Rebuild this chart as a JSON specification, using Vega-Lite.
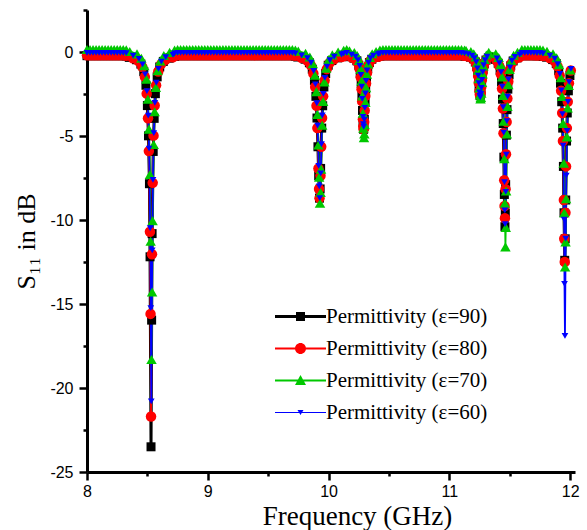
{
"$schema":"https://vega.github.io/schema/vega-lite/v6.json",
"width":488,"height":462,
"autosize":{"type":"none"},
"padding":{"left":87,"top":10,"right":12,"bottom":58},
"background":"white",
"config":{"view":{"stroke":null},
"axis":{"domainWidth":3,"domainColor":"#000","tickWidth":2.5,"tickColor":"#000","labelFont":"Liberation Sans","labelFontSize":16,"labelColor":"#000","titleFont":"Liberation Serif","titleFontSize":26,"titleFontWeight":"normal","titleColor":"#000","grid":false,"labelFlush":false,"labelOverlap":false}},
"data":{"values":[
{"f":8,"s":-0.22,"p":"90"},{"f":8.05,"s":-0.22,"p":"90"},{"f":8.1,"s":-0.22,"p":"90"},{"f":8.15,"s":-0.22,"p":"90"},{"f":8.2,"s":-0.22,"p":"90"},{"f":8.25,"s":-0.22,"p":"90"},{"f":8.3,"s":-0.22,"p":"90"},{"f":8.75,"s":-0.22,"p":"90"},{"f":8.8,"s":-0.22,"p":"90"},{"f":8.85,"s":-0.22,"p":"90"},{"f":8.9,"s":-0.22,"p":"90"},{"f":8.95,"s":-0.22,"p":"90"},{"f":9,"s":-0.22,"p":"90"},{"f":9.05,"s":-0.22,"p":"90"},{"f":9.1,"s":-0.22,"p":"90"},{"f":9.15,"s":-0.22,"p":"90"},{"f":9.2,"s":-0.22,"p":"90"},{"f":9.25,"s":-0.22,"p":"90"},{"f":9.3,"s":-0.22,"p":"90"},{"f":9.35,"s":-0.22,"p":"90"},{"f":9.4,"s":-0.22,"p":"90"},{"f":9.45,"s":-0.22,"p":"90"},{"f":9.5,"s":-0.22,"p":"90"},{"f":9.55,"s":-0.22,"p":"90"},{"f":9.6,"s":-0.22,"p":"90"},{"f":9.65,"s":-0.22,"p":"90"},{"f":9.7,"s":-0.22,"p":"90"},{"f":10.15,"s":-0.22,"p":"90"},{"f":10.45,"s":-0.22,"p":"90"},{"f":10.5,"s":-0.22,"p":"90"},{"f":10.55,"s":-0.22,"p":"90"},{"f":10.6,"s":-0.22,"p":"90"},{"f":10.65,"s":-0.22,"p":"90"},{"f":10.7,"s":-0.22,"p":"90"},{"f":10.75,"s":-0.22,"p":"90"},{"f":10.8,"s":-0.22,"p":"90"},{"f":10.85,"s":-0.22,"p":"90"},{"f":10.9,"s":-0.22,"p":"90"},{"f":10.95,"s":-0.22,"p":"90"},{"f":11,"s":-0.22,"p":"90"},{"f":11.05,"s":-0.22,"p":"90"},{"f":11.1,"s":-0.22,"p":"90"},{"f":11.6,"s":-0.22,"p":"90"},{"f":11.65,"s":-0.22,"p":"90"},{"f":11.7,"s":-0.22,"p":"90"},{"f":11.75,"s":-0.22,"p":"90"},
{"f":8.025,"s":-0.22,"p":"90"},{"f":8.075,"s":-0.22,"p":"90"},{"f":8.125,"s":-0.22,"p":"90"},{"f":8.175,"s":-0.22,"p":"90"},{"f":8.225,"s":-0.22,"p":"90"},{"f":8.275,"s":-0.22,"p":"90"},{"f":8.325,"s":-0.24,"p":"90"},{"f":8.725,"s":-0.26,"p":"90"},{"f":8.775,"s":-0.22,"p":"90"},{"f":8.825,"s":-0.22,"p":"90"},{"f":8.875,"s":-0.22,"p":"90"},{"f":8.925,"s":-0.22,"p":"90"},{"f":8.975,"s":-0.22,"p":"90"},{"f":9.025,"s":-0.22,"p":"90"},{"f":9.075,"s":-0.22,"p":"90"},{"f":9.125,"s":-0.22,"p":"90"},{"f":9.175,"s":-0.22,"p":"90"},{"f":9.225,"s":-0.22,"p":"90"},{"f":9.275,"s":-0.22,"p":"90"},{"f":9.325,"s":-0.22,"p":"90"},{"f":9.375,"s":-0.22,"p":"90"},{"f":9.425,"s":-0.22,"p":"90"},{"f":9.475,"s":-0.22,"p":"90"},{"f":9.525,"s":-0.22,"p":"90"},{"f":9.575,"s":-0.22,"p":"90"},{"f":9.625,"s":-0.22,"p":"90"},{"f":9.675,"s":-0.22,"p":"90"},{"f":9.725,"s":-0.25,"p":"90"},{"f":10.125,"s":-0.25,"p":"90"},{"f":10.425,"s":-0.24,"p":"90"},{"f":10.475,"s":-0.22,"p":"90"},{"f":10.525,"s":-0.22,"p":"90"},{"f":10.575,"s":-0.22,"p":"90"},{"f":10.625,"s":-0.22,"p":"90"},{"f":10.675,"s":-0.22,"p":"90"},{"f":10.725,"s":-0.22,"p":"90"},{"f":10.775,"s":-0.22,"p":"90"},{"f":10.825,"s":-0.22,"p":"90"},{"f":10.875,"s":-0.22,"p":"90"},{"f":10.925,"s":-0.22,"p":"90"},{"f":10.975,"s":-0.22,"p":"90"},{"f":11.025,"s":-0.22,"p":"90"},{"f":11.075,"s":-0.22,"p":"90"},{"f":11.125,"s":-0.24,"p":"90"},{"f":11.625,"s":-0.22,"p":"90"},{"f":11.675,"s":-0.22,"p":"90"},{"f":11.725,"s":-0.23,"p":"90"},{"f":11.775,"s":-0.26,"p":"90"},
{"f":8.35,"s":-0.32,"p":"90"},{"f":8.41,"s":-0.46,"p":"90"},{"f":8.446,"s":-0.72,"p":"90"},{"f":8.47,"s":-1.16,"p":"90"},{"f":8.488,"s":-1.98,"p":"90"},{"f":8.5,"s":-3.19,"p":"90"},{"f":8.509,"s":-4.99,"p":"90"},{"f":8.517,"s":-7.84,"p":"90"},{"f":8.522,"s":-12.19,"p":"90"},{"f":8.53,"s":-23.5,"p":"90"},{"f":8.535,"s":-15.96,"p":"90"},{"f":8.539,"s":-10.81,"p":"90"},{"f":8.548,"s":-5.92,"p":"90"},{"f":8.556,"s":-3.95,"p":"90"},{"f":8.566,"s":-2.48,"p":"90"},{"f":8.581,"s":-1.48,"p":"90"},{"f":8.602,"s":-0.89,"p":"90"},{"f":8.632,"s":-0.56,"p":"90"},{"f":8.68,"s":-0.37,"p":"90"},
{"f":9.745,"s":-0.3,"p":"90"},{"f":9.805,"s":-0.43,"p":"90"},{"f":9.841,"s":-0.64,"p":"90"},{"f":9.865,"s":-1.02,"p":"90"},{"f":9.883,"s":-1.69,"p":"90"},{"f":9.895,"s":-2.64,"p":"90"},{"f":9.904,"s":-3.93,"p":"90"},{"f":9.912,"s":-5.64,"p":"90"},{"f":9.918,"s":-7.37,"p":"90"},{"f":9.925,"s":-8.7,"p":"90"},{"f":9.93,"s":-8.15,"p":"90"},{"f":9.934,"s":-6.93,"p":"90"},{"f":9.943,"s":-4.53,"p":"90"},{"f":9.951,"s":-3.2,"p":"90"},{"f":9.961,"s":-2.08,"p":"90"},{"f":9.976,"s":-1.28,"p":"90"},{"f":9.997,"s":-0.79,"p":"90"},{"f":10.027,"s":-0.51,"p":"90"},{"f":10.075,"s":-0.35,"p":"90"},
{"f":10.17,"s":-0.28,"p":"90"},{"f":10.21,"s":-0.37,"p":"90"},{"f":10.234,"s":-0.52,"p":"90"},{"f":10.25,"s":-0.79,"p":"90"},{"f":10.262,"s":-1.25,"p":"90"},{"f":10.27,"s":-1.87,"p":"90"},{"f":10.276,"s":-2.62,"p":"90"},{"f":10.281,"s":-3.48,"p":"90"},{"f":10.285,"s":-4.17,"p":"90"},{"f":10.29,"s":-4.6,"p":"90"},{"f":10.293,"s":-4.44,"p":"90"},{"f":10.296,"s":-4.01,"p":"90"},{"f":10.302,"s":-2.94,"p":"90"},{"f":10.307,"s":-2.21,"p":"90"},{"f":10.314,"s":-1.51,"p":"90"},{"f":10.324,"s":-0.98,"p":"90"},{"f":10.338,"s":-0.63,"p":"90"},{"f":10.358,"s":-0.43,"p":"90"},{"f":10.39,"s":-0.31,"p":"90"},
{"f":11.135,"s":-0.25,"p":"90"},{"f":11.175,"s":-0.31,"p":"90"},{"f":11.199,"s":-0.41,"p":"90"},{"f":11.215,"s":-0.59,"p":"90"},{"f":11.227,"s":-0.87,"p":"90"},{"f":11.235,"s":-1.24,"p":"90"},{"f":11.241,"s":-1.66,"p":"90"},{"f":11.246,"s":-2.09,"p":"90"},{"f":11.25,"s":-2.42,"p":"90"},{"f":11.255,"s":-2.6,"p":"90"},{"f":11.258,"s":-2.53,"p":"90"},{"f":11.261,"s":-2.34,"p":"90"},{"f":11.267,"s":-1.83,"p":"90"},{"f":11.272,"s":-1.43,"p":"90"},{"f":11.279,"s":-1.03,"p":"90"},{"f":11.289,"s":-0.7,"p":"90"},{"f":11.303,"s":-0.48,"p":"90"},{"f":11.323,"s":-0.35,"p":"90"},
{"f":11.38,"s":-0.44,"p":"90"},{"f":11.404,"s":-0.67,"p":"90"},{"f":11.42,"s":-1.07,"p":"90"},{"f":11.432,"s":-1.78,"p":"90"},{"f":11.44,"s":-2.81,"p":"90"},{"f":11.446,"s":-4.26,"p":"90"},{"f":11.451,"s":-6.26,"p":"90"},{"f":11.455,"s":-8.48,"p":"90"},{"f":11.46,"s":-10.4,"p":"90"},{"f":11.463,"s":-9.58,"p":"90"},{"f":11.466,"s":-7.89,"p":"90"},{"f":11.472,"s":-4.95,"p":"90"},{"f":11.477,"s":-3.43,"p":"90"},{"f":11.484,"s":-2.21,"p":"90"},{"f":11.494,"s":-1.35,"p":"90"},{"f":11.508,"s":-0.82,"p":"90"},{"f":11.528,"s":-0.53,"p":"90"},{"f":11.56,"s":-0.35,"p":"90"},
{"f":11.805,"s":-0.31,"p":"90"},{"f":11.855,"s":-0.45,"p":"90"},{"f":11.885,"s":-0.69,"p":"90"},{"f":11.905,"s":-1.1,"p":"90"},{"f":11.92,"s":-1.86,"p":"90"},{"f":11.93,"s":-2.96,"p":"90"},{"f":11.938,"s":-4.53,"p":"90"},{"f":11.944,"s":-6.81,"p":"90"},{"f":11.949,"s":-9.57,"p":"90"},{"f":11.955,"s":-12.4,"p":"90"},{"f":11.959,"s":-11.12,"p":"90"},{"f":11.963,"s":-8.81,"p":"90"},{"f":11.97,"s":-5.3,"p":"90"},{"f":11.976,"s":-3.63,"p":"90"},{"f":11.985,"s":-2.31,"p":"90"},{"f":11.998,"s":-1.4,"p":"90"},

{"f":8,"s":-0.2,"p":"80"},{"f":8.05,"s":-0.2,"p":"80"},{"f":8.1,"s":-0.2,"p":"80"},{"f":8.15,"s":-0.2,"p":"80"},{"f":8.2,"s":-0.2,"p":"80"},{"f":8.25,"s":-0.2,"p":"80"},{"f":8.3,"s":-0.2,"p":"80"},{"f":8.75,"s":-0.2,"p":"80"},{"f":8.8,"s":-0.2,"p":"80"},{"f":8.85,"s":-0.2,"p":"80"},{"f":8.9,"s":-0.2,"p":"80"},{"f":8.95,"s":-0.2,"p":"80"},{"f":9,"s":-0.2,"p":"80"},{"f":9.05,"s":-0.2,"p":"80"},{"f":9.1,"s":-0.2,"p":"80"},{"f":9.15,"s":-0.2,"p":"80"},{"f":9.2,"s":-0.2,"p":"80"},{"f":9.25,"s":-0.2,"p":"80"},{"f":9.3,"s":-0.2,"p":"80"},{"f":9.35,"s":-0.2,"p":"80"},{"f":9.4,"s":-0.2,"p":"80"},{"f":9.45,"s":-0.2,"p":"80"},{"f":9.5,"s":-0.2,"p":"80"},{"f":9.55,"s":-0.2,"p":"80"},{"f":9.6,"s":-0.2,"p":"80"},{"f":9.65,"s":-0.2,"p":"80"},{"f":9.7,"s":-0.2,"p":"80"},{"f":10.15,"s":-0.2,"p":"80"},{"f":10.45,"s":-0.2,"p":"80"},{"f":10.5,"s":-0.2,"p":"80"},{"f":10.55,"s":-0.2,"p":"80"},{"f":10.6,"s":-0.2,"p":"80"},{"f":10.65,"s":-0.2,"p":"80"},{"f":10.7,"s":-0.2,"p":"80"},{"f":10.75,"s":-0.2,"p":"80"},{"f":10.8,"s":-0.2,"p":"80"},{"f":10.85,"s":-0.2,"p":"80"},{"f":10.9,"s":-0.2,"p":"80"},{"f":10.95,"s":-0.2,"p":"80"},{"f":11,"s":-0.2,"p":"80"},{"f":11.05,"s":-0.2,"p":"80"},{"f":11.1,"s":-0.2,"p":"80"},{"f":11.6,"s":-0.2,"p":"80"},{"f":11.65,"s":-0.2,"p":"80"},{"f":11.7,"s":-0.2,"p":"80"},{"f":11.75,"s":-0.2,"p":"80"},
{"f":8.025,"s":-0.2,"p":"80"},{"f":8.075,"s":-0.2,"p":"80"},{"f":8.125,"s":-0.2,"p":"80"},{"f":8.175,"s":-0.2,"p":"80"},{"f":8.225,"s":-0.2,"p":"80"},{"f":8.275,"s":-0.2,"p":"80"},{"f":8.325,"s":-0.22,"p":"80"},{"f":8.725,"s":-0.24,"p":"80"},{"f":8.775,"s":-0.2,"p":"80"},{"f":8.825,"s":-0.2,"p":"80"},{"f":8.875,"s":-0.2,"p":"80"},{"f":8.925,"s":-0.2,"p":"80"},{"f":8.975,"s":-0.2,"p":"80"},{"f":9.025,"s":-0.2,"p":"80"},{"f":9.075,"s":-0.2,"p":"80"},{"f":9.125,"s":-0.2,"p":"80"},{"f":9.175,"s":-0.2,"p":"80"},{"f":9.225,"s":-0.2,"p":"80"},{"f":9.275,"s":-0.2,"p":"80"},{"f":9.325,"s":-0.2,"p":"80"},{"f":9.375,"s":-0.2,"p":"80"},{"f":9.425,"s":-0.2,"p":"80"},{"f":9.475,"s":-0.2,"p":"80"},{"f":9.525,"s":-0.2,"p":"80"},{"f":9.575,"s":-0.2,"p":"80"},{"f":9.625,"s":-0.2,"p":"80"},{"f":9.675,"s":-0.2,"p":"80"},{"f":9.725,"s":-0.23,"p":"80"},{"f":10.125,"s":-0.25,"p":"80"},{"f":10.425,"s":-0.24,"p":"80"},{"f":10.475,"s":-0.2,"p":"80"},{"f":10.525,"s":-0.2,"p":"80"},{"f":10.575,"s":-0.2,"p":"80"},{"f":10.625,"s":-0.2,"p":"80"},{"f":10.675,"s":-0.2,"p":"80"},{"f":10.725,"s":-0.2,"p":"80"},{"f":10.775,"s":-0.2,"p":"80"},{"f":10.825,"s":-0.2,"p":"80"},{"f":10.875,"s":-0.2,"p":"80"},{"f":10.925,"s":-0.2,"p":"80"},{"f":10.975,"s":-0.2,"p":"80"},{"f":11.025,"s":-0.2,"p":"80"},{"f":11.075,"s":-0.2,"p":"80"},{"f":11.125,"s":-0.22,"p":"80"},{"f":11.625,"s":-0.2,"p":"80"},{"f":11.675,"s":-0.2,"p":"80"},{"f":11.725,"s":-0.21,"p":"80"},{"f":11.775,"s":-0.24,"p":"80"},
{"f":8.38,"s":-0.37,"p":"80"},{"f":8.428,"s":-0.56,"p":"80"},{"f":8.458,"s":-0.89,"p":"80"},{"f":8.479,"s":-1.48,"p":"80"},{"f":8.494,"s":-2.48,"p":"80"},{"f":8.505,"s":-3.94,"p":"80"},{"f":8.512,"s":-5.9,"p":"80"},{"f":8.521,"s":-10.7,"p":"80"},{"f":8.526,"s":-15.59,"p":"80"},{"f":8.53,"s":-21.7,"p":"80"},{"f":8.538,"s":-12.04,"p":"80"},{"f":8.544,"s":-7.79,"p":"80"},{"f":8.551,"s":-4.98,"p":"80"},{"f":8.56,"s":-3.18,"p":"80"},{"f":8.572,"s":-1.98,"p":"80"},{"f":8.59,"s":-1.16,"p":"80"},{"f":8.614,"s":-0.72,"p":"80"},{"f":8.65,"s":-0.46,"p":"80"},{"f":8.71,"s":-0.32,"p":"80"},
{"f":9.775,"s":-0.35,"p":"80"},{"f":9.823,"s":-0.51,"p":"80"},{"f":9.853,"s":-0.79,"p":"80"},{"f":9.874,"s":-1.28,"p":"80"},{"f":9.889,"s":-2.08,"p":"80"},{"f":9.9,"s":-3.2,"p":"80"},{"f":9.907,"s":-4.53,"p":"80"},{"f":9.916,"s":-6.93,"p":"80"},{"f":9.921,"s":-8.15,"p":"80"},{"f":9.925,"s":-8.7,"p":"80"},{"f":9.933,"s":-7.37,"p":"80"},{"f":9.939,"s":-5.64,"p":"80"},{"f":9.946,"s":-3.93,"p":"80"},{"f":9.955,"s":-2.64,"p":"80"},{"f":9.967,"s":-1.69,"p":"80"},{"f":9.985,"s":-1.02,"p":"80"},{"f":10.009,"s":-0.64,"p":"80"},{"f":10.045,"s":-0.43,"p":"80"},{"f":10.105,"s":-0.3,"p":"80"},
{"f":10.19,"s":-0.31,"p":"80"},{"f":10.222,"s":-0.43,"p":"80"},{"f":10.242,"s":-0.63,"p":"80"},{"f":10.256,"s":-0.98,"p":"80"},{"f":10.266,"s":-1.51,"p":"80"},{"f":10.273,"s":-2.21,"p":"80"},{"f":10.278,"s":-2.94,"p":"80"},{"f":10.284,"s":-4.01,"p":"80"},{"f":10.287,"s":-4.44,"p":"80"},{"f":10.29,"s":-4.6,"p":"80"},{"f":10.295,"s":-4.17,"p":"80"},{"f":10.299,"s":-3.48,"p":"80"},{"f":10.304,"s":-2.62,"p":"80"},{"f":10.31,"s":-1.87,"p":"80"},{"f":10.318,"s":-1.25,"p":"80"},{"f":10.33,"s":-0.79,"p":"80"},{"f":10.346,"s":-0.52,"p":"80"},{"f":10.37,"s":-0.37,"p":"80"},{"f":10.41,"s":-0.28,"p":"80"},
{"f":11.155,"s":-0.27,"p":"80"},{"f":11.187,"s":-0.35,"p":"80"},{"f":11.207,"s":-0.48,"p":"80"},{"f":11.221,"s":-0.7,"p":"80"},{"f":11.231,"s":-1.03,"p":"80"},{"f":11.238,"s":-1.43,"p":"80"},{"f":11.243,"s":-1.83,"p":"80"},{"f":11.249,"s":-2.34,"p":"80"},{"f":11.252,"s":-2.53,"p":"80"},{"f":11.255,"s":-2.6,"p":"80"},{"f":11.26,"s":-2.42,"p":"80"},{"f":11.264,"s":-2.09,"p":"80"},{"f":11.269,"s":-1.66,"p":"80"},{"f":11.275,"s":-1.24,"p":"80"},{"f":11.283,"s":-0.87,"p":"80"},{"f":11.295,"s":-0.59,"p":"80"},{"f":11.311,"s":-0.41,"p":"80"},
{"f":11.392,"s":-0.52,"p":"80"},{"f":11.412,"s":-0.82,"p":"80"},{"f":11.426,"s":-1.33,"p":"80"},{"f":11.436,"s":-2.18,"p":"80"},{"f":11.443,"s":-3.37,"p":"80"},{"f":11.448,"s":-4.84,"p":"80"},{"f":11.454,"s":-7.63,"p":"80"},{"f":11.457,"s":-9.17,"p":"80"},{"f":11.46,"s":-9.9,"p":"80"},{"f":11.465,"s":-8.17,"p":"80"},{"f":11.469,"s":-6.09,"p":"80"},{"f":11.474,"s":-4.17,"p":"80"},{"f":11.48,"s":-2.77,"p":"80"},{"f":11.488,"s":-1.76,"p":"80"},{"f":11.5,"s":-1.05,"p":"80"},{"f":11.516,"s":-0.66,"p":"80"},{"f":11.54,"s":-0.44,"p":"80"},{"f":11.58,"s":-0.31,"p":"80"},
{"f":11.83,"s":-0.36,"p":"80"},{"f":11.87,"s":-0.54,"p":"80"},{"f":11.895,"s":-0.85,"p":"80"},{"f":11.913,"s":-1.4,"p":"80"},{"f":11.925,"s":-2.31,"p":"80"},{"f":11.934,"s":-3.63,"p":"80"},{"f":11.94,"s":-5.3,"p":"80"},{"f":11.948,"s":-8.81,"p":"80"},{"f":11.951,"s":-11.12,"p":"80"},{"f":11.955,"s":-12.5,"p":"80"},{"f":11.961,"s":-9.57,"p":"80"},{"f":11.966,"s":-6.81,"p":"80"},{"f":11.973,"s":-4.53,"p":"80"},{"f":11.98,"s":-2.96,"p":"80"},{"f":11.99,"s":-1.86,"p":"80"},{"f":12.005,"s":-1.1,"p":"80"},

{"f":8,"s":0.15,"p":"70"},{"f":8.05,"s":0.15,"p":"70"},{"f":8.1,"s":0.15,"p":"70"},{"f":8.15,"s":0.15,"p":"70"},{"f":8.2,"s":0.15,"p":"70"},{"f":8.25,"s":0.15,"p":"70"},{"f":8.3,"s":0.15,"p":"70"},{"f":8.75,"s":0.15,"p":"70"},{"f":8.8,"s":0.15,"p":"70"},{"f":8.85,"s":0.15,"p":"70"},{"f":8.9,"s":0.15,"p":"70"},{"f":8.95,"s":0.15,"p":"70"},{"f":9,"s":0.15,"p":"70"},{"f":9.05,"s":0.15,"p":"70"},{"f":9.1,"s":0.15,"p":"70"},{"f":9.15,"s":0.15,"p":"70"},{"f":9.2,"s":0.15,"p":"70"},{"f":9.25,"s":0.15,"p":"70"},{"f":9.3,"s":0.15,"p":"70"},{"f":9.35,"s":0.15,"p":"70"},{"f":9.4,"s":0.15,"p":"70"},{"f":9.45,"s":0.15,"p":"70"},{"f":9.5,"s":0.15,"p":"70"},{"f":9.55,"s":0.15,"p":"70"},{"f":9.6,"s":0.15,"p":"70"},{"f":9.65,"s":0.15,"p":"70"},{"f":9.7,"s":0.15,"p":"70"},{"f":10.15,"s":0.15,"p":"70"},{"f":10.45,"s":0.15,"p":"70"},{"f":10.5,"s":0.15,"p":"70"},{"f":10.55,"s":0.15,"p":"70"},{"f":10.6,"s":0.15,"p":"70"},{"f":10.65,"s":0.15,"p":"70"},{"f":10.7,"s":0.15,"p":"70"},{"f":10.75,"s":0.15,"p":"70"},{"f":10.8,"s":0.15,"p":"70"},{"f":10.85,"s":0.15,"p":"70"},{"f":10.9,"s":0.15,"p":"70"},{"f":10.95,"s":0.15,"p":"70"},{"f":11,"s":0.15,"p":"70"},{"f":11.05,"s":0.15,"p":"70"},{"f":11.1,"s":0.15,"p":"70"},{"f":11.6,"s":0.15,"p":"70"},{"f":11.65,"s":0.15,"p":"70"},{"f":11.7,"s":0.15,"p":"70"},{"f":11.75,"s":0.15,"p":"70"},
{"f":8.025,"s":0.15,"p":"70"},{"f":8.075,"s":0.15,"p":"70"},{"f":8.125,"s":0.15,"p":"70"},{"f":8.175,"s":0.15,"p":"70"},{"f":8.225,"s":0.15,"p":"70"},{"f":8.275,"s":0.15,"p":"70"},{"f":8.325,"s":0.13,"p":"70"},{"f":8.725,"s":0.11,"p":"70"},{"f":8.775,"s":0.15,"p":"70"},{"f":8.825,"s":0.15,"p":"70"},{"f":8.875,"s":0.15,"p":"70"},{"f":8.925,"s":0.15,"p":"70"},{"f":8.975,"s":0.15,"p":"70"},{"f":9.025,"s":0.15,"p":"70"},{"f":9.075,"s":0.15,"p":"70"},{"f":9.125,"s":0.15,"p":"70"},{"f":9.175,"s":0.15,"p":"70"},{"f":9.225,"s":0.15,"p":"70"},{"f":9.275,"s":0.15,"p":"70"},{"f":9.325,"s":0.15,"p":"70"},{"f":9.375,"s":0.15,"p":"70"},{"f":9.425,"s":0.15,"p":"70"},{"f":9.475,"s":0.15,"p":"70"},{"f":9.525,"s":0.15,"p":"70"},{"f":9.575,"s":0.15,"p":"70"},{"f":9.625,"s":0.15,"p":"70"},{"f":9.675,"s":0.15,"p":"70"},{"f":9.725,"s":0.12,"p":"70"},{"f":10.125,"s":0.1,"p":"70"},{"f":10.425,"s":0.12,"p":"70"},{"f":10.475,"s":0.15,"p":"70"},{"f":10.525,"s":0.15,"p":"70"},{"f":10.575,"s":0.15,"p":"70"},{"f":10.625,"s":0.15,"p":"70"},{"f":10.675,"s":0.15,"p":"70"},{"f":10.725,"s":0.15,"p":"70"},{"f":10.775,"s":0.15,"p":"70"},{"f":10.825,"s":0.15,"p":"70"},{"f":10.875,"s":0.15,"p":"70"},{"f":10.925,"s":0.15,"p":"70"},{"f":10.975,"s":0.15,"p":"70"},{"f":11.025,"s":0.15,"p":"70"},{"f":11.075,"s":0.15,"p":"70"},{"f":11.125,"s":0.12,"p":"70"},{"f":11.625,"s":0.15,"p":"70"},{"f":11.675,"s":0.15,"p":"70"},{"f":11.725,"s":0.14,"p":"70"},{"f":11.775,"s":0.11,"p":"70"},
{"f":8.354,"s":0.03,"p":"70"},{"f":8.414,"s":-0.11,"p":"70"},{"f":8.45,"s":-0.37,"p":"70"},{"f":8.474,"s":-0.81,"p":"70"},{"f":8.492,"s":-1.62,"p":"70"},{"f":8.504,"s":-2.81,"p":"70"},{"f":8.513,"s":-4.59,"p":"70"},{"f":8.521,"s":-7.29,"p":"70"},{"f":8.527,"s":-11.26,"p":"70"},{"f":8.534,"s":-18.3,"p":"70"},{"f":8.539,"s":-14.29,"p":"70"},{"f":8.543,"s":-10.04,"p":"70"},{"f":8.552,"s":-5.51,"p":"70"},{"f":8.56,"s":-3.56,"p":"70"},{"f":8.57,"s":-2.11,"p":"70"},{"f":8.585,"s":-1.12,"p":"70"},{"f":8.606,"s":-0.54,"p":"70"},{"f":8.636,"s":-0.21,"p":"70"},{"f":8.684,"s":-0.02,"p":"70"},
{"f":9.749,"s":0.05,"p":"70"},{"f":9.809,"s":-0.08,"p":"70"},{"f":9.845,"s":-0.3,"p":"70"},{"f":9.869,"s":-0.69,"p":"70"},{"f":9.887,"s":-1.38,"p":"70"},{"f":9.899,"s":-2.36,"p":"70"},{"f":9.908,"s":-3.72,"p":"70"},{"f":9.916,"s":-5.54,"p":"70"},{"f":9.922,"s":-7.46,"p":"70"},{"f":9.929,"s":-9.0,"p":"70"},{"f":9.934,"s":-8.36,"p":"70"},{"f":9.938,"s":-6.97,"p":"70"},{"f":9.947,"s":-4.36,"p":"70"},{"f":9.955,"s":-2.95,"p":"70"},{"f":9.965,"s":-1.79,"p":"70"},{"f":9.98,"s":-0.96,"p":"70"},{"f":10.001,"s":-0.45,"p":"70"},{"f":10.031,"s":-0.17,"p":"70"},{"f":10.079,"s":0.0,"p":"70"},
{"f":10.173,"s":0.07,"p":"70"},{"f":10.213,"s":-0.03,"p":"70"},{"f":10.237,"s":-0.21,"p":"70"},{"f":10.253,"s":-0.51,"p":"70"},{"f":10.265,"s":-1.02,"p":"70"},{"f":10.273,"s":-1.73,"p":"70"},{"f":10.279,"s":-2.61,"p":"70"},{"f":10.284,"s":-3.65,"p":"70"},{"f":10.288,"s":-4.54,"p":"70"},{"f":10.293,"s":-5.1,"p":"70"},{"f":10.296,"s":-4.88,"p":"70"},{"f":10.299,"s":-4.33,"p":"70"},{"f":10.305,"s":-3.0,"p":"70"},{"f":10.31,"s":-2.12,"p":"70"},{"f":10.317,"s":-1.32,"p":"70"},{"f":10.327,"s":-0.71,"p":"70"},{"f":10.341,"s":-0.33,"p":"70"},{"f":10.361,"s":-0.1,"p":"70"},{"f":10.393,"s":0.03,"p":"70"},
{"f":11.138,"s":0.09,"p":"70"},{"f":11.178,"s":0.02,"p":"70"},{"f":11.202,"s":-0.1,"p":"70"},{"f":11.218,"s":-0.3,"p":"70"},{"f":11.23,"s":-0.64,"p":"70"},{"f":11.238,"s":-1.08,"p":"70"},{"f":11.244,"s":-1.59,"p":"70"},{"f":11.249,"s":-2.14,"p":"70"},{"f":11.253,"s":-2.56,"p":"70"},{"f":11.258,"s":-2.8,"p":"70"},{"f":11.261,"s":-2.71,"p":"70"},{"f":11.264,"s":-2.46,"p":"70"},{"f":11.27,"s":-1.81,"p":"70"},{"f":11.275,"s":-1.31,"p":"70"},{"f":11.282,"s":-0.83,"p":"70"},{"f":11.292,"s":-0.44,"p":"70"},{"f":11.306,"s":-0.18,"p":"70"},{"f":11.326,"s":-0.02,"p":"70"},
{"f":11.384,"s":-0.1,"p":"70"},{"f":11.408,"s":-0.33,"p":"70"},{"f":11.424,"s":-0.75,"p":"70"},{"f":11.436,"s":-1.49,"p":"70"},{"f":11.444,"s":-2.58,"p":"70"},{"f":11.45,"s":-4.12,"p":"70"},{"f":11.455,"s":-6.35,"p":"70"},{"f":11.459,"s":-9.0,"p":"70"},{"f":11.464,"s":-11.6,"p":"70"},{"f":11.467,"s":-10.44,"p":"70"},{"f":11.47,"s":-8.27,"p":"70"},{"f":11.476,"s":-4.88,"p":"70"},{"f":11.481,"s":-3.24,"p":"70"},{"f":11.488,"s":-1.94,"p":"70"},{"f":11.498,"s":-1.04,"p":"70"},{"f":11.512,"s":-0.5,"p":"70"},{"f":11.532,"s":-0.19,"p":"70"},{"f":11.564,"s":-0.01,"p":"70"},
{"f":11.808,"s":0.04,"p":"70"},{"f":11.858,"s":-0.1,"p":"70"},{"f":11.888,"s":-0.34,"p":"70"},{"f":11.908,"s":-0.76,"p":"70"},{"f":11.923,"s":-1.53,"p":"70"},{"f":11.933,"s":-2.65,"p":"70"},{"f":11.941,"s":-4.25,"p":"70"},{"f":11.947,"s":-6.62,"p":"70"},{"f":11.952,"s":-9.57,"p":"70"},{"f":11.958,"s":-12.8,"p":"70"},{"f":11.962,"s":-11.3,"p":"70"},{"f":11.966,"s":-8.74,"p":"70"},{"f":11.973,"s":-5.05,"p":"70"},{"f":11.979,"s":-3.33,"p":"70"},{"f":11.988,"s":-1.99,"p":"70"},{"f":12.001,"s":-1.07,"p":"70"},

{"f":8,"s":-0.05,"p":"60"},{"f":8.05,"s":-0.05,"p":"60"},{"f":8.1,"s":-0.05,"p":"60"},{"f":8.15,"s":-0.05,"p":"60"},{"f":8.2,"s":-0.05,"p":"60"},{"f":8.25,"s":-0.05,"p":"60"},{"f":8.3,"s":-0.05,"p":"60"},{"f":8.75,"s":-0.05,"p":"60"},{"f":8.8,"s":-0.05,"p":"60"},{"f":8.85,"s":-0.05,"p":"60"},{"f":8.9,"s":-0.05,"p":"60"},{"f":8.95,"s":-0.05,"p":"60"},{"f":9,"s":-0.05,"p":"60"},{"f":9.05,"s":-0.05,"p":"60"},{"f":9.1,"s":-0.05,"p":"60"},{"f":9.15,"s":-0.05,"p":"60"},{"f":9.2,"s":-0.05,"p":"60"},{"f":9.25,"s":-0.05,"p":"60"},{"f":9.3,"s":-0.05,"p":"60"},{"f":9.35,"s":-0.05,"p":"60"},{"f":9.4,"s":-0.05,"p":"60"},{"f":9.45,"s":-0.05,"p":"60"},{"f":9.5,"s":-0.05,"p":"60"},{"f":9.55,"s":-0.05,"p":"60"},{"f":9.6,"s":-0.05,"p":"60"},{"f":9.65,"s":-0.05,"p":"60"},{"f":9.7,"s":-0.05,"p":"60"},{"f":10.15,"s":-0.05,"p":"60"},{"f":10.45,"s":-0.05,"p":"60"},{"f":10.5,"s":-0.05,"p":"60"},{"f":10.55,"s":-0.05,"p":"60"},{"f":10.6,"s":-0.05,"p":"60"},{"f":10.65,"s":-0.05,"p":"60"},{"f":10.7,"s":-0.05,"p":"60"},{"f":10.75,"s":-0.05,"p":"60"},{"f":10.8,"s":-0.05,"p":"60"},{"f":10.85,"s":-0.05,"p":"60"},{"f":10.9,"s":-0.05,"p":"60"},{"f":10.95,"s":-0.05,"p":"60"},{"f":11,"s":-0.05,"p":"60"},{"f":11.05,"s":-0.05,"p":"60"},{"f":11.1,"s":-0.05,"p":"60"},{"f":11.6,"s":-0.05,"p":"60"},{"f":11.65,"s":-0.05,"p":"60"},{"f":11.7,"s":-0.05,"p":"60"},{"f":11.75,"s":-0.05,"p":"60"},
{"f":8.025,"s":-0.05,"p":"60"},{"f":8.075,"s":-0.05,"p":"60"},{"f":8.125,"s":-0.05,"p":"60"},{"f":8.175,"s":-0.05,"p":"60"},{"f":8.225,"s":-0.05,"p":"60"},{"f":8.275,"s":-0.05,"p":"60"},{"f":8.325,"s":-0.07,"p":"60"},{"f":8.725,"s":-0.09,"p":"60"},{"f":8.775,"s":-0.05,"p":"60"},{"f":8.825,"s":-0.05,"p":"60"},{"f":8.875,"s":-0.05,"p":"60"},{"f":8.925,"s":-0.05,"p":"60"},{"f":8.975,"s":-0.05,"p":"60"},{"f":9.025,"s":-0.05,"p":"60"},{"f":9.075,"s":-0.05,"p":"60"},{"f":9.125,"s":-0.05,"p":"60"},{"f":9.175,"s":-0.05,"p":"60"},{"f":9.225,"s":-0.05,"p":"60"},{"f":9.275,"s":-0.05,"p":"60"},{"f":9.325,"s":-0.05,"p":"60"},{"f":9.375,"s":-0.05,"p":"60"},{"f":9.425,"s":-0.05,"p":"60"},{"f":9.475,"s":-0.05,"p":"60"},{"f":9.525,"s":-0.05,"p":"60"},{"f":9.575,"s":-0.05,"p":"60"},{"f":9.625,"s":-0.05,"p":"60"},{"f":9.675,"s":-0.05,"p":"60"},{"f":9.725,"s":-0.08,"p":"60"},{"f":10.125,"s":-0.1,"p":"60"},{"f":10.425,"s":-0.09,"p":"60"},{"f":10.475,"s":-0.05,"p":"60"},{"f":10.525,"s":-0.05,"p":"60"},{"f":10.575,"s":-0.05,"p":"60"},{"f":10.625,"s":-0.05,"p":"60"},{"f":10.675,"s":-0.05,"p":"60"},{"f":10.725,"s":-0.05,"p":"60"},{"f":10.775,"s":-0.05,"p":"60"},{"f":10.825,"s":-0.05,"p":"60"},{"f":10.875,"s":-0.05,"p":"60"},{"f":10.925,"s":-0.05,"p":"60"},{"f":10.975,"s":-0.05,"p":"60"},{"f":11.025,"s":-0.05,"p":"60"},{"f":11.075,"s":-0.05,"p":"60"},{"f":11.125,"s":-0.08,"p":"60"},{"f":11.625,"s":-0.05,"p":"60"},{"f":11.675,"s":-0.05,"p":"60"},{"f":11.725,"s":-0.06,"p":"60"},{"f":11.775,"s":-0.09,"p":"60"},
{"f":8.382,"s":-0.22,"p":"60"},{"f":8.43,"s":-0.41,"p":"60"},{"f":8.46,"s":-0.74,"p":"60"},{"f":8.481,"s":-1.33,"p":"60"},{"f":8.496,"s":-2.33,"p":"60"},{"f":8.507,"s":-3.79,"p":"60"},{"f":8.514,"s":-5.75,"p":"60"},{"f":8.523,"s":-10.49,"p":"60"},{"f":8.528,"s":-15.25,"p":"60"},{"f":8.532,"s":-20.8,"p":"60"},{"f":8.54,"s":-11.81,"p":"60"},{"f":8.546,"s":-7.61,"p":"60"},{"f":8.553,"s":-4.83,"p":"60"},{"f":8.562,"s":-3.03,"p":"60"},{"f":8.574,"s":-1.83,"p":"60"},{"f":8.592,"s":-1.01,"p":"60"},{"f":8.616,"s":-0.57,"p":"60"},{"f":8.652,"s":-0.31,"p":"60"},{"f":8.712,"s":-0.17,"p":"60"},
{"f":9.777,"s":-0.2,"p":"60"},{"f":9.825,"s":-0.36,"p":"60"},{"f":9.855,"s":-0.64,"p":"60"},{"f":9.876,"s":-1.13,"p":"60"},{"f":9.891,"s":-1.93,"p":"60"},{"f":9.902,"s":-3.05,"p":"60"},{"f":9.909,"s":-4.38,"p":"60"},{"f":9.918,"s":-6.78,"p":"60"},{"f":9.923,"s":-8.0,"p":"60"},{"f":9.927,"s":-8.7,"p":"60"},{"f":9.935,"s":-7.22,"p":"60"},{"f":9.941,"s":-5.49,"p":"60"},{"f":9.948,"s":-3.78,"p":"60"},{"f":9.957,"s":-2.49,"p":"60"},{"f":9.969,"s":-1.54,"p":"60"},{"f":9.987,"s":-0.87,"p":"60"},{"f":10.011,"s":-0.49,"p":"60"},{"f":10.047,"s":-0.28,"p":"60"},{"f":10.107,"s":-0.15,"p":"60"},
{"f":10.191,"s":-0.16,"p":"60"},{"f":10.223,"s":-0.28,"p":"60"},{"f":10.243,"s":-0.48,"p":"60"},{"f":10.257,"s":-0.83,"p":"60"},{"f":10.267,"s":-1.36,"p":"60"},{"f":10.274,"s":-2.06,"p":"60"},{"f":10.279,"s":-2.79,"p":"60"},{"f":10.285,"s":-3.86,"p":"60"},{"f":10.288,"s":-4.29,"p":"60"},{"f":10.291,"s":-4.45,"p":"60"},{"f":10.296,"s":-4.02,"p":"60"},{"f":10.3,"s":-3.33,"p":"60"},{"f":10.305,"s":-2.47,"p":"60"},{"f":10.311,"s":-1.72,"p":"60"},{"f":10.319,"s":-1.1,"p":"60"},{"f":10.331,"s":-0.64,"p":"60"},{"f":10.347,"s":-0.37,"p":"60"},{"f":10.371,"s":-0.22,"p":"60"},{"f":10.411,"s":-0.13,"p":"60"},
{"f":11.156,"s":-0.13,"p":"60"},{"f":11.188,"s":-0.22,"p":"60"},{"f":11.208,"s":-0.36,"p":"60"},{"f":11.222,"s":-0.6,"p":"60"},{"f":11.232,"s":-0.97,"p":"60"},{"f":11.239,"s":-1.41,"p":"60"},{"f":11.244,"s":-1.85,"p":"60"},{"f":11.25,"s":-2.41,"p":"60"},{"f":11.253,"s":-2.62,"p":"60"},{"f":11.256,"s":-2.7,"p":"60"},{"f":11.261,"s":-2.5,"p":"60"},{"f":11.265,"s":-2.14,"p":"60"},{"f":11.27,"s":-1.66,"p":"60"},{"f":11.276,"s":-1.2,"p":"60"},{"f":11.284,"s":-0.79,"p":"60"},{"f":11.296,"s":-0.48,"p":"60"},{"f":11.312,"s":-0.28,"p":"60"},
{"f":11.394,"s":-0.38,"p":"60"},{"f":11.414,"s":-0.67,"p":"60"},{"f":11.428,"s":-1.2,"p":"60"},{"f":11.438,"s":-2.06,"p":"60"},{"f":11.445,"s":-3.28,"p":"60"},{"f":11.45,"s":-4.8,"p":"60"},{"f":11.456,"s":-7.74,"p":"60"},{"f":11.459,"s":-9.43,"p":"60"},{"f":11.462,"s":-10.25,"p":"60"},{"f":11.467,"s":-8.33,"p":"60"},{"f":11.471,"s":-6.11,"p":"60"},{"f":11.476,"s":-4.11,"p":"60"},{"f":11.482,"s":-2.66,"p":"60"},{"f":11.49,"s":-1.63,"p":"60"},{"f":11.502,"s":-0.92,"p":"60"},{"f":11.518,"s":-0.52,"p":"60"},{"f":11.542,"s":-0.29,"p":"60"},{"f":11.582,"s":-0.16,"p":"60"},
{"f":11.832,"s":-0.22,"p":"60"},{"f":11.872,"s":-0.4,"p":"60"},{"f":11.897,"s":-0.73,"p":"60"},{"f":11.915,"s":-1.31,"p":"60"},{"f":11.927,"s":-2.28,"p":"60"},{"f":11.936,"s":-3.7,"p":"60"},{"f":11.942,"s":-5.58,"p":"60"},{"f":11.95,"s":-9.98,"p":"60"},{"f":11.953,"s":-13.8,"p":"60"},{"f":11.957,"s":-16.9,"p":"60"},{"f":11.963,"s":-11.11,"p":"60"},{"f":11.968,"s":-7.36,"p":"60"},{"f":11.975,"s":-4.7,"p":"60"},{"f":11.982,"s":-2.97,"p":"60"},{"f":11.992,"s":-1.79,"p":"60"},{"f":12.007,"s":-1.0,"p":"60"}
]},
"encoding":{
"x":{"field":"f","type":"quantitative","scale":{"domain":[8,12.04],"nice":false,"zero":false},
"axis":{"values":[8,8.5,9,9.5,10,10.5,11,11.5,12],"labelExpr":"datum.value % 1 === 0 ? '' + datum.value : ''","tickSize":{"condition":{"test":"datum.value % 1 === 0","value":8},"value":4},"labelPadding":3,"title":"Frequency (GHz)","titleFontSize":27,"titleX":270,"titleAlign":"center","titleY":44,"titleBaseline":"middle"}},
"y":{"field":"s","type":"quantitative","scale":{"domain":[-25,2.5],"nice":false,"zero":false},
"axis":{"values":[-25,-22.5,-20,-17.5,-15,-12.5,-10,-7.5,-5,-2.5,0,2.5],"labelExpr":"datum.value % 5 === 0 ? '' + datum.value : ''","tickSize":{"condition":{"test":"datum.value % 5 === 0","value":8},"value":4},"labelPadding":6,"title":"S₁₁ in dB","titlePadding":10}},
"color":{"field":"p","type":"nominal","scale":{"domain":["90","80","70","60"],"range":["#000000","#ff0000","#00c800","#0000ff"]},
"legend":{"orient":"none","legendX":203,"legendY":296,"title":null,"symbolSize":100,"labelOffset":15,"labelFont":"Liberation Serif","labelFontSize":21,"labelColor":"#000","labelLimit":400,"rowPadding":10,
"labelExpr":"'Permittivity (ε=' + datum.label + ')'",
"encode":{"symbols":{"update":{
"shape":{"signal":"datum.value === '90' ? 'M-5.1,-0.3H5.1V0.3H-5.1ZM-0.9,-0.9H0.9V0.9H-0.9Z' : datum.value === '80' ? 'M-5.1,-0.2H5.1V0.2H-5.1ZM1.1,0A1.1,1.1,0,1,1,-1.1,0A1.1,1.1,0,1,1,1.1,0Z' : datum.value === '70' ? 'M-5.1,-0.2H5.1V0.2H-5.1ZM0,-1.1L1.1,0.9H-1.1Z' : 'M-5.1,-0.12H5.1V0.12H-5.1ZM0,0.5L-0.6,-0.5H0.6Z'"},
"strokeWidth":{"value":0},"opacity":{"value":1},"size":{"value":100}}}}}}
},
"layer":[
{"mark":{"type":"line","clip":false},
"encoding":{"strokeWidth":{"condition":{"test":"datum.p === '90'","value":3},"value":1.8}}},
{"mark":{"type":"point","filled":true,"opacity":1},
"encoding":{"shape":{"condition":[{"test":"datum.p === '90'","value":"square"},{"test":"datum.p === '80'","value":"circle"},{"test":"datum.p === '70'","value":"triangle-up"}],"value":"triangle-down"},
"size":{"condition":[{"test":"datum.p === '60'","value":45},{"test":"datum.p === '90'","value":81}],"value":110}}}
]
}
